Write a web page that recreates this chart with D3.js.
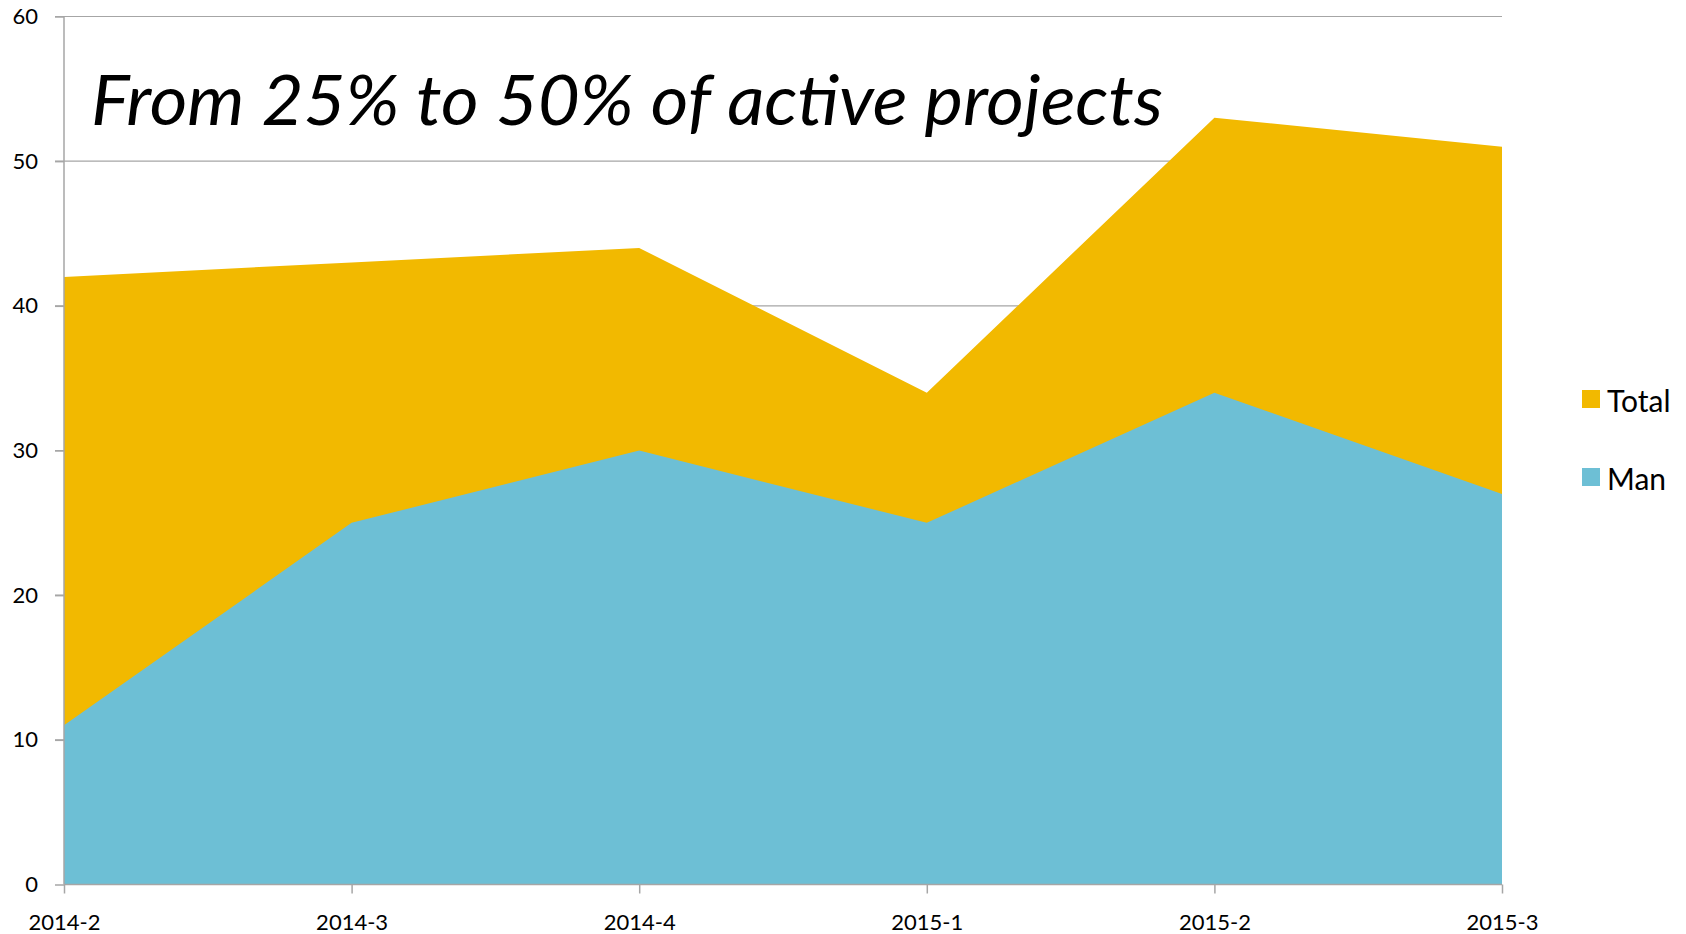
<!DOCTYPE html>
<html>
<head>
<meta charset="utf-8">
<script src="https://cdn.jsdelivr.net/npm/d3@7"></script>
<style>
body{margin:0;background:#fff;}
text{font-family:Lato,"Open Sans",sans-serif;fill:#000;}
</style>
</head>
<body>
<div id="chart"></div>
<script>
//Chart data
var quarters=["2014-2","2014-3","2014-4","2015-1","2015-2","2015-3"];
var total=[42,43,44,34,53,51];
var man=[11,25,30,25,34,27];
var yTicks=[0,10,20,30,40,50,60];
var seriesNames=["Total","Man"];

var w=1686, h=934;
var colors={Total:"#F2B900",Man:"#6DBFD5"};

var svg=d3.select("#chart").append("svg").attr("width",w).attr("height",h);

var x=d3.scalePoint().domain(quarters).range([64,1502]);
var y=d3.scaleLinear().domain([0,60]).range([884.5,16.5]);

//Gridlines
svg.append("g").selectAll("line").data(yTicks.filter(function(d){return d>0;})).enter()
   .append("line")
   .attr("x1",55).attr("x2",1502)
   .attr("y1",function(d){return y(d);}).attr("y2",function(d){return y(d);})
   .style("stroke","#a6a6a6").style("stroke-width",1.2);

//Areas: Total behind, Man in front
var area=function(vals){
    return d3.area()
             .x(function(d,i){return x(quarters[i]);})
             .y0(y(0))
             .y1(function(d){return y(d);})(vals);
};
svg.append("path").attr("d",area(total)).attr("fill",colors.Total);
svg.append("path").attr("d",area(man)).attr("fill",colors.Man);

//Y axis
var yAxis=d3.axisLeft(y).tickValues(yTicks).tickSize(9).tickPadding(17);
var gy=svg.append("g").attr("transform","translate(64,0)").call(yAxis);
gy.selectAll("text").style("font-size","22px");

//X axis
var xAxis=d3.axisBottom(x).tickSize(9).tickPadding(21);
var gx=svg.append("g").attr("transform","translate(0,"+y(0)+")").call(xAxis);
gx.selectAll("text").style("font-size","22px");

svg.selectAll(".domain").style("stroke","#a6a6a6").style("stroke-width",1.5);
svg.selectAll(".tick line").style("stroke","#a6a6a6").style("stroke-width",1.5);
gx.select(".domain").attr("d","M64,0H1502");
gy.select(".domain").attr("d","M0,"+y(0)+"V"+y(60));

//Title
svg.append("text")
   .text("From 25% to 50% of active projects")
   .attr("x",91).attr("y",125)
   .attr("textLength",1072).attr("lengthAdjust","spacingAndGlyphs")
   .style("font-size","70px").style("font-style","italic");

//Legend
var legend=svg.append("g").selectAll("g").data(seriesNames).enter().append("g")
   .attr("transform",function(d,i){return "translate(1582,"+(390+i*78)+")";});
legend.append("rect").attr("width",18).attr("height",18)
   .attr("fill",function(d){return colors[d];});
legend.append("text").text(function(d){return d;})
   .attr("x",25).attr("y",10).attr("dominant-baseline","central")
   .style("font-size","30px");
</script>
</body>
</html>
